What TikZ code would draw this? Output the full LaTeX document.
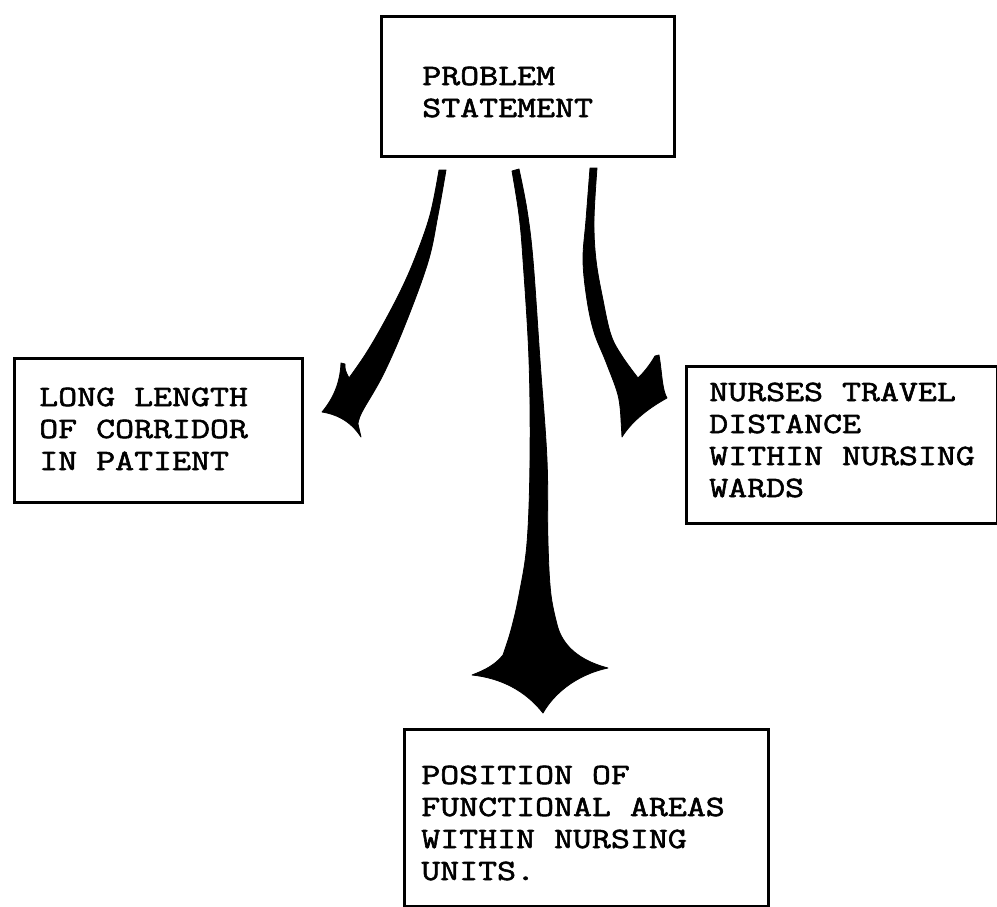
\documentclass[tikz,border=0pt]{standalone}
\usepackage{fontspec}
\newfontfamily\typew{Latin Modern Mono}[FakeStretch=1.25,FakeBold=2]
\begin{document}
\begin{tikzpicture}[x=0.75pt,y=-0.75pt,
  box/.style={draw=black, line width=2.3pt, inner sep=0pt, anchor=north west},
  txt/.style={font=\typew\fontsize{22.1pt}{24pt}\selectfont, align=left, inner sep=0pt, anchor=base west},
  blob/.style={fill=black, draw=black, line width=0.6pt, line join=round}]
\useasboundingbox (0,0) rectangle (997,907);

% boxes
\node[box, minimum width=219.75pt, minimum height=105pt] (top) at (380,15) {};
\node[box, minimum width=216pt, minimum height=108pt] (left) at (13,357) {};
\node[box, minimum width=233.25pt, minimum height=117.75pt] (right) at (685,365) {};
\node[box, minimum width=273pt, minimum height=132.75pt] (bottom) at (403,728) {};

% texts (anchored at the baseline of the last line)
\node[txt] (toptext) at (422,117) {PROBLEM\\STATEMENT};
\node[txt] (lefttext) at (39,470) {LONG LENGTH\\OF CORRIDOR\\IN PATIENT};
\node[txt] (righttext) at (709,497) {NURSES TRAVEL\\DISTANCE\\WITHIN NURSING\\WARDS};
\node[txt] (bottomtext) at (421,880) {POSITION OF\\FUNCTIONAL AREAS\\WITHIN NURSING\\UNITS.};

% left arrow
\fill[blob] plot[smooth, tension=0.6] coordinates {(446,170) (438,215) (428,262) (405,325) (383,375) (362,412) (358,424)}
  -- (361,437)
  .. controls (350,420) and (335,414) .. (322,412)
  .. controls (332,400) and (340,385) .. (341,363)
  -- (345,364) .. controls (345,370) .. (349,378)
  -- plot[smooth, tension=0.6] coordinates {(349,378) (365,355) (381,328) (400,292) (415,258) (430,215) (439,170)}
  -- cycle;

% right arrow
\fill[blob] plot[smooth, tension=0.6] coordinates {(590,168) (586,220) (583,260) (587,300) (594,332) (606,362) (618,395) (621,420)}
  -- (622,437)
  .. controls (630,424) and (645,410) .. (667,398)
  .. controls (662,390) and (662,372) .. (659,355)
  -- (655,356) .. controls (648,368) and (642,374) .. (638,378)
  -- plot[smooth, tension=0.6] coordinates {(638,378) (622,356) (611,335) (603,300) (596,260) (594,220) (597,168)}
  -- cycle;

% centre arrow
\fill[blob] plot[smooth, tension=0.6] coordinates {(512,171) (519,215) (523,260) (529,360) (530,460) (527,543) (519,595) (511,630) (503,655)}
  .. controls (495,665) and (485,670) .. (472,675)
  .. controls (500,678) and (525,690) .. (543,713)
  .. controls (553,695) and (575,675) .. (608,668)
  .. controls (585,662) and (565,650) .. (558,628)
  -- plot[smooth, tension=0.6] coordinates {(558,628) (551,595) (548,543) (547,460) (540,360) (533,260) (527,210) (519,169)}
  -- cycle;
\end{tikzpicture}
\end{document}
